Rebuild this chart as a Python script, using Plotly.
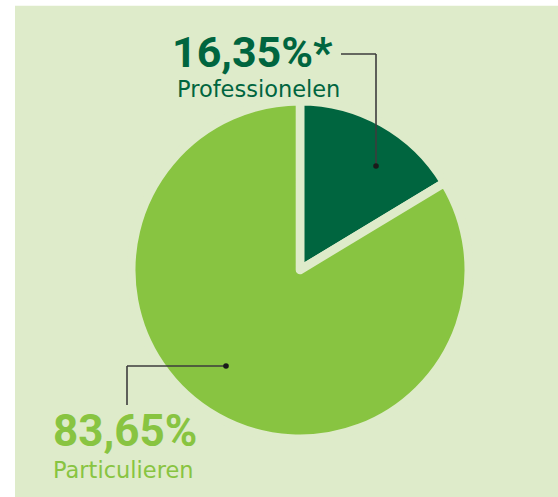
import plotly.graph_objects as go

labels = ["Professionelen", "Particulieren"]
values = [16.35, 83.65]
value_text = ["16,35%*", "83,65%"]
colors = ["#00653f", "#88c441"]

W, H = 558, 497
PANEL = "#deebca"

def px(x):
    return x / W

def py(y):
    return 1 - y / H

GAP = 8.6          # separator stroke between slices (panel colour)
R_VIS = 164.5      # visible radius
R = R_VIS + GAP / 2
CX, CY = 300, 270

fig = go.Figure()
fig.add_trace(go.Pie(
    labels=labels,
    values=values,
    sort=False,
    direction="clockwise",
    rotation=0,
    marker=dict(colors=colors, line=dict(width=GAP, color=PANEL)),
    textinfo="none",
    hoverinfo="label+percent",
    showlegend=False,
    domain=dict(x=[px(CX - R), px(CX + R)],
                y=[py(CY + R), py(CY - R)]),
))

LINE = "#3d3d3d"
shapes = [
    dict(type="rect", xref="paper", yref="paper", x0=px(15), x1=1.0,
         y0=0.0, y1=py(5.7), fillcolor=PANEL, line=dict(width=0), layer="below"),
    # top leader
    dict(type="line", xref="paper", yref="paper", x0=px(341), x1=px(376),
         y0=py(54), y1=py(54), line=dict(color=LINE, width=1.6)),
    dict(type="line", xref="paper", yref="paper", x0=px(376), x1=px(376),
         y0=py(54), y1=py(166), line=dict(color=LINE, width=1.6)),
    dict(type="circle", xref="paper", yref="paper", x0=px(373.2), x1=px(378.8),
         y0=py(163.2), y1=py(168.8), fillcolor="#1a1a1a", line=dict(width=0)),
    # bottom leader
    dict(type="line", xref="paper", yref="paper", x0=px(127), x1=px(226),
         y0=py(366), y1=py(366), line=dict(color=LINE, width=1.6)),
    dict(type="line", xref="paper", yref="paper", x0=px(127), x1=px(127),
         y0=py(366), y1=py(405), line=dict(color=LINE, width=1.6)),
    dict(type="circle", xref="paper", yref="paper", x0=px(223.2), x1=px(228.8),
         y0=py(363.2), y1=py(368.8), fillcolor="#1a1a1a", line=dict(width=0)),
]

num_font = "Roboto"
lab_font = "DejaVu Sans"

annotations = [
    dict(text=f"<b>{value_text[0]}</b>", x=px(170), y=py(52), xref="paper", yref="paper",
         xanchor="left", yanchor="middle", showarrow=False,
         font=dict(family=num_font, size=43, color=colors[0])),
    dict(text=labels[0], x=px(175), y=py(89), xref="paper", yref="paper",
         xanchor="left", yanchor="middle", showarrow=False,
         font=dict(family=lab_font, size=22.5, color=colors[0])),
    dict(text=f"<b>{value_text[1]}</b>", x=px(51), y=py(431), xref="paper", yref="paper",
         xanchor="left", yanchor="middle", showarrow=False,
         font=dict(family=num_font, size=44, color=colors[1])),
    dict(text=labels[1], x=px(51), y=py(470), xref="paper", yref="paper",
         xanchor="left", yanchor="middle", showarrow=False,
         font=dict(family=lab_font, size=22.5, color=colors[1])),
]

fig.update_layout(
    width=W, height=H,
    margin=dict(l=0, r=0, t=0, b=0),
    paper_bgcolor="white",
    plot_bgcolor="white",
    shapes=shapes,
    annotations=annotations,
)

fig.write_html("out.html", config={"displayModeBar": False},
               post_script="document.body.style.margin='0px';")
